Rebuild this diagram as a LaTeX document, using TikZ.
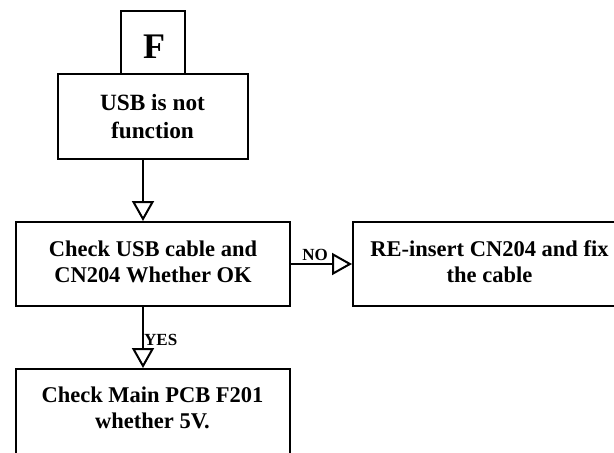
\documentclass[tikz,border=0pt]{standalone}
\usepackage{fontspec}
\setmainfont{Liberation Serif}
\usetikzlibrary{arrows.meta}
\begin{document}
\begin{tikzpicture}[x=1pt,y=-1pt,
  box/.style={draw=black, line width=2pt, fill=white, rectangle, inner sep=0pt},
  txt/.style={inner sep=0pt, align=center, font=\bfseries\fontsize{22.5}{26}\selectfont},
  lbl/.style={inner sep=0pt, font=\bfseries\fontsize{17}{19}\selectfont},
  conn/.style={draw=black, line width=2pt, -{Triangle[open, length=20pt, width=22pt, line width=2pt]}}
]
\useasboundingbox (0,0) rectangle (614,453);
% boxes
\node[box, minimum width=190pt, minimum height=85pt] (usb) at (153,116.5) {};
\node[box, minimum width=64pt, minimum height=63pt] (fbox) at (153,42.5) {};
\node[box, minimum width=274pt, minimum height=84pt] (chk) at (153,264) {};
\node[box, minimum width=274pt, minimum height=84pt] (rb) at (490,264) {};
\node[box, minimum width=274pt, minimum height=95pt] (pcb) at (153,416.5) {};
% texts
\node[inner sep=0pt, font=\bfseries\fontsize{36}{40}\selectfont, anchor=base] (ftxt) at (154,58) {F};
\node[txt, font=\bfseries\fontsize{23.3}{28}\selectfont, anchor=base] (usbtxt) at (152.5,138) {USB is not\\function};
\node[txt, anchor=base] (chktxt) at (153,282) {Check USB cable and\\CN204 Whether OK};
\node[txt, anchor=base] (rbtxt) at (489.5,282) {RE-insert CN204 and fix\\the cable};
\node[txt, font=\bfseries\fontsize{22.5}{25.5}\selectfont, anchor=base] (pcbtxt) at (152.5,428) {Check Main PCB F201\\whether 5V.};
% connectors
\draw[conn] ([xshift=-10pt]usb.south) -- ([xshift=-10pt]chk.north);
\draw[conn] ([xshift=-10pt]chk.south) -- ([xshift=-10pt]pcb.north);
\draw[conn] (chk.east) -- (rb.west);
% labels
\node[lbl, anchor=base east] (no) at (328,260) {NO};
\node[lbl, anchor=base west] (yes) at (144,345) {YES};
\end{tikzpicture}
\end{document}
